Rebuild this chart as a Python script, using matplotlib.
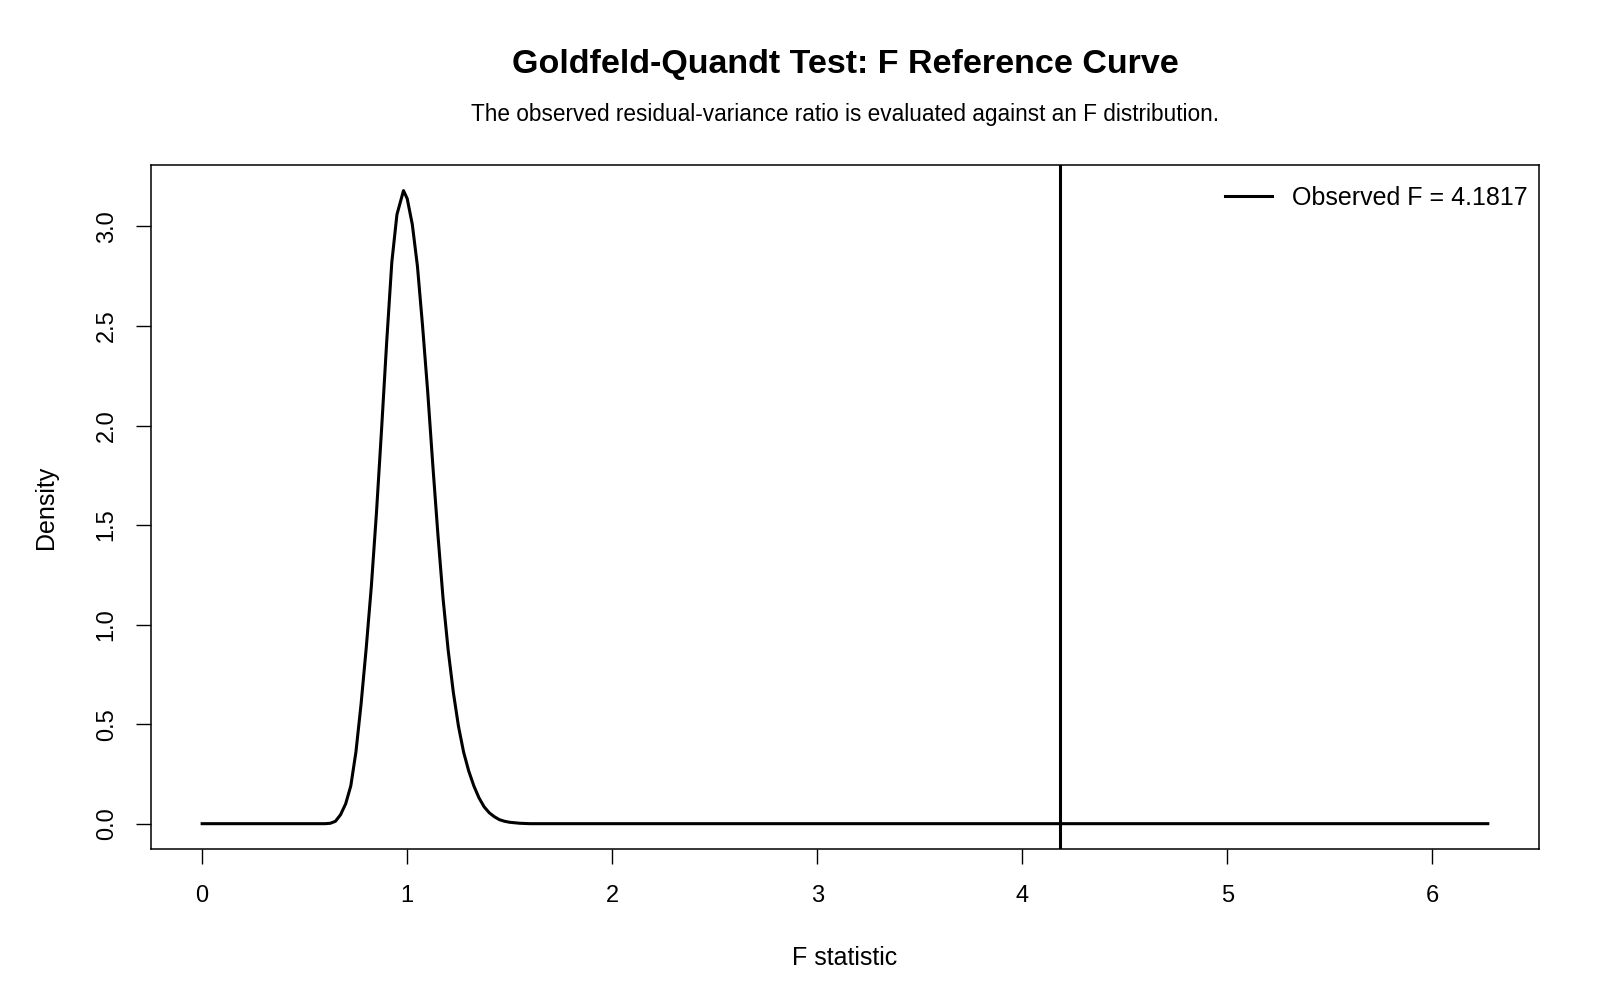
import matplotlib
matplotlib.use("Agg")
import matplotlib.pyplot as plt

plt.rcParams["font.family"] = ["Liberation Sans", "DejaVu Sans"]

# F reference density
f_values = [0.0, 0.6, 0.625, 0.65, 0.675, 0.7, 0.725, 0.75, 0.775, 0.8,
            0.825, 0.85, 0.875, 0.9, 0.925, 0.95, 0.982, 1.0, 1.025, 1.05,
            1.075, 1.1, 1.125, 1.15, 1.175, 1.2, 1.225, 1.25, 1.275, 1.3,
            1.325, 1.35, 1.375, 1.4, 1.425, 1.45, 1.475, 1.5, 1.55, 1.6,
            6.27]
density = [0.0, 0.0, 0.002, 0.012, 0.045, 0.10, 0.19, 0.36, 0.60, 0.88,
           1.19, 1.56, 1.98, 2.42, 2.82, 3.06, 3.18, 3.14, 3.01, 2.80,
           2.50, 2.17, 1.80, 1.45, 1.13, 0.87, 0.66, 0.49, 0.36, 0.265,
           0.19, 0.13, 0.085, 0.055, 0.035, 0.02, 0.012, 0.007, 0.002, 0.0,
           0.0]

observed_f = 4.1817

x_ticks = [0, 1, 2, 3, 4, 5, 6]
y_ticks = [0.0, 0.5, 1.0, 1.5, 2.0, 2.5, 3.0]

title = "Goldfeld-Quandt Test: F Reference Curve"
subtitle = "The observed residual-variance ratio is evaluated against an F distribution."


def main():
    fig = plt.figure(figsize=(16, 10), dpi=100)
    ax = fig.add_axes([0.0942, 0.151, 0.962 - 0.0942, 0.8347 - 0.151])

    ax.plot(f_values, density, color="black", linewidth=2.2)
    ax.axvline(observed_f, color="black", linewidth=2.2,
               label=f"Observed F = {observed_f:.4f}")

    # R-style 4% padding around the data range
    x_lo, x_hi = min(f_values), max(f_values)
    y_lo, y_hi = min(density), max(density)
    dx = (x_hi - x_lo) * 0.04
    dy = (y_hi - y_lo) * 0.04
    ax.set_xlim(x_lo - dx, x_hi + dx)
    ax.set_ylim(y_lo - dy, y_hi + dy)

    ax.set_xticks(x_ticks)
    ax.set_xticklabels([str(t) for t in x_ticks])
    ax.set_yticks(y_ticks)
    ax.set_yticklabels([f"{t:.1f}" for t in y_ticks])
    ax.tick_params(axis="both", direction="out", length=10.8, width=1,
                   labelsize=17)
    ax.tick_params(axis="x", pad=15)
    ax.tick_params(axis="y", pad=13)
    for lbl in ax.get_yticklabels():
        lbl.set_rotation(90)
        lbl.set_va("center")

    for spine in ax.spines.values():
        spine.set_linewidth(1.1)

    ax.set_xlabel("F statistic", fontsize=18, labelpad=28)
    ax.set_ylabel("Density", fontsize=18, labelpad=27)

    ax.legend(loc="upper right", frameon=False, fontsize=18,
              handlelength=1.85, handletextpad=0.82,
              borderaxespad=0, bbox_to_anchor=(0.999, 0.984))

    cx = 0.0942 + (0.962 - 0.0942) / 2
    fig.text(cx, 0.935, title, ha="center", va="center",
             fontsize=24.5, fontweight="bold")
    fig.text(cx, 0.885, subtitle, ha="center", va="center", fontsize=16.3)

    fig.savefig("out.png", dpi=100)


if __name__ == "__main__":
    main()
